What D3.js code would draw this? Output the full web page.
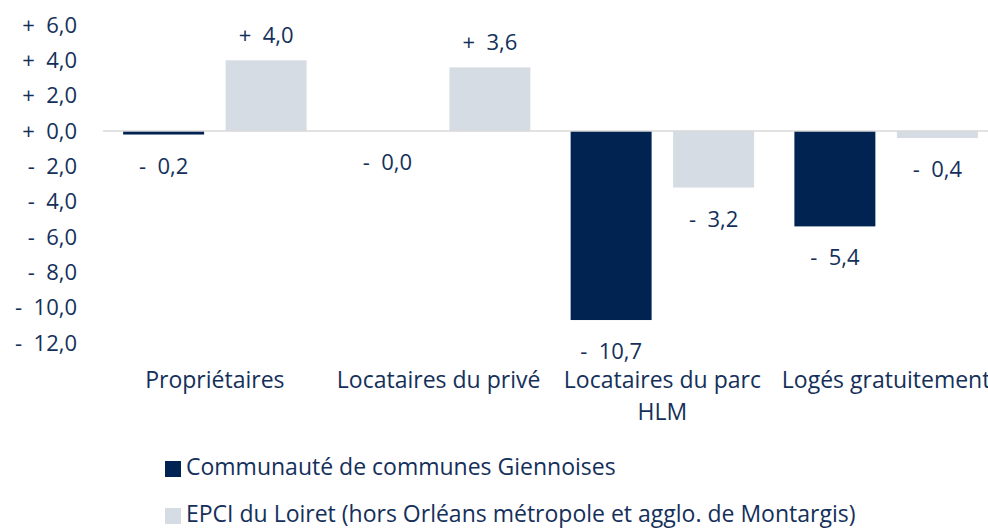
<!DOCTYPE html>
<html>
<head>
<meta charset="utf-8">
<script src="https://cdn.jsdelivr.net/npm/d3@7"></script>
<style>
  body { margin: 0; background: #fff; }
  text { font-family: "Open Sans", "Liberation Sans", sans-serif; fill: #14305a; white-space: pre; }
</style>
</head>
<body>
<svg id="drawing_region"></svg>
<script>
const categories = ["Propriétaires", "Locataires du privé", "Locataires du parc HLM", "Logés gratuitement"];
const seriesNames = ["Communauté de communes Giennoises", "EPCI du Loiret (hors Orléans métropole et agglo. de Montargis)"];
const giennoises = [-0.2, -0.0, -10.7, -5.4];
const loiret = [4.0, 3.6, -3.2, -0.4];
const tickValues = [6, 4, 2, 0, -2, -4, -6, -8, -10, -12];
const colors = ["#002352", "#d6dce4"];

const config = {
    width: 988,
    height: 529,
    margin: {top: 25, right: -10, bottom: 186, left: 103}
};

const fmt = v => {
    const sign = (v > 0 || Object.is(v, 0)) ? "+" : "-";
    return sign + "  " + Math.abs(v).toFixed(1).replace(".", ",");
};

const svg = d3.select("#drawing_region")
    .attr("width", config.width)
    .attr("height", config.height);

const inner_width = config.width - config.margin.left - config.margin.right;
const inner_height = config.height - config.margin.top - config.margin.bottom;

const chart = svg.append("g")
    .attr("transform", `translate(${config.margin.left}, ${config.margin.top})`);

const yscale = d3.scaleLinear()
    .domain([-12, 6])
    .range([inner_height, 0]);

const xscale = d3.scaleBand()
    .domain(categories)
    .range([0, inner_width])
    .paddingInner(0.18)
    .paddingOuter(0.09);

const xsub = d3.scaleBand()
    .domain([0, 1])
    .range([0, xscale.bandwidth()])
    .paddingInner(0.21);

// y axis (labels only)
const yaxis = d3.axisLeft(yscale)
    .tickValues(tickValues)
    .tickSize(0)
    .tickPadding(26)
    .tickFormat(d => fmt(d === 0 ? 0 : d));

chart.append("g")
    .call(yaxis)
    .call(g => g.select(".domain").remove())
    .attr("font-family", null)
    .selectAll("text")
    .style("font-size", "22px")
    .attr("fill", "#14305a");

// data table
const rows = [];
categories.forEach((c, i) => {
    rows.push({cat: c, s: 0, v: giennoises[i]});
    rows.push({cat: c, s: 1, v: loiret[i]});
});

chart.selectAll("rect.bar")
    .data(rows)
    .enter()
    .append("rect")
    .attr("class", "bar")
    .attr("x", d => xscale(d.cat) + xsub(d.s))
    .attr("y", d => yscale(Math.max(0, d.v)))
    .attr("width", xsub.bandwidth())
    .attr("height", d => Math.abs(yscale(d.v) - yscale(0)))
    .attr("fill", d => colors[d.s]);

// zero line
chart.append("line")
    .attr("x1", 0)
    .attr("x2", inner_width)
    .attr("y1", yscale(0))
    .attr("y2", yscale(0))
    .attr("stroke", "#d9d9d9")
    .attr("stroke-width", 1.5);

// value labels
chart.selectAll("text.val")
    .data(rows)
    .enter()
    .append("text")
    .attr("class", "val")
    .attr("x", d => xscale(d.cat) + xsub(d.s) + xsub.bandwidth() / 2)
    .attr("y", d => d.v > 0 ? yscale(d.v) - 17 : yscale(Math.min(0, d.v)) + 39)
    .attr("text-anchor", "middle")
    .style("font-size", "22px")
    .text(d => fmt(d.v));

// category labels
const catLabels = chart.selectAll("text.cat")
    .data(categories)
    .enter()
    .append("text")
    .attr("class", "cat")
    .attr("x", d => xscale(d) + xscale.bandwidth() / 2)
    .attr("y", 363)
    .attr("text-anchor", "middle")
    .style("font-size", "23px");

catLabels.each(function(d) {
    const el = d3.select(this);
    const words = d.split(" ");
    let line = [];
    let tspan = el.append("tspan").attr("x", el.attr("x")).attr("dy", 0);
    words.forEach(w => {
        line.push(w);
        tspan.text(line.join(" "));
        if (tspan.node().getComputedTextLength() > 222 && line.length > 1) {
            line.pop();
            tspan.text(line.join(" "));
            line = [w];
            tspan = el.append("tspan").attr("x", el.attr("x")).attr("dy", 32).text(w);
        }
    });
});

// legend
const legend = svg.append("g")
    .attr("transform", "translate(165, 461)");

const items = legend.selectAll("g")
    .data(seriesNames)
    .enter()
    .append("g")
    .attr("transform", (d, i) => `translate(0, ${i * 47})`);

items.append("rect")
    .attr("width", 16)
    .attr("height", 16)
    .attr("fill", (d, i) => colors[i]);

items.append("text")
    .attr("x", 21)
    .attr("y", 14)
    .style("font-size", "23px")
    .text(d => d);
</script>
</body>
</html>
